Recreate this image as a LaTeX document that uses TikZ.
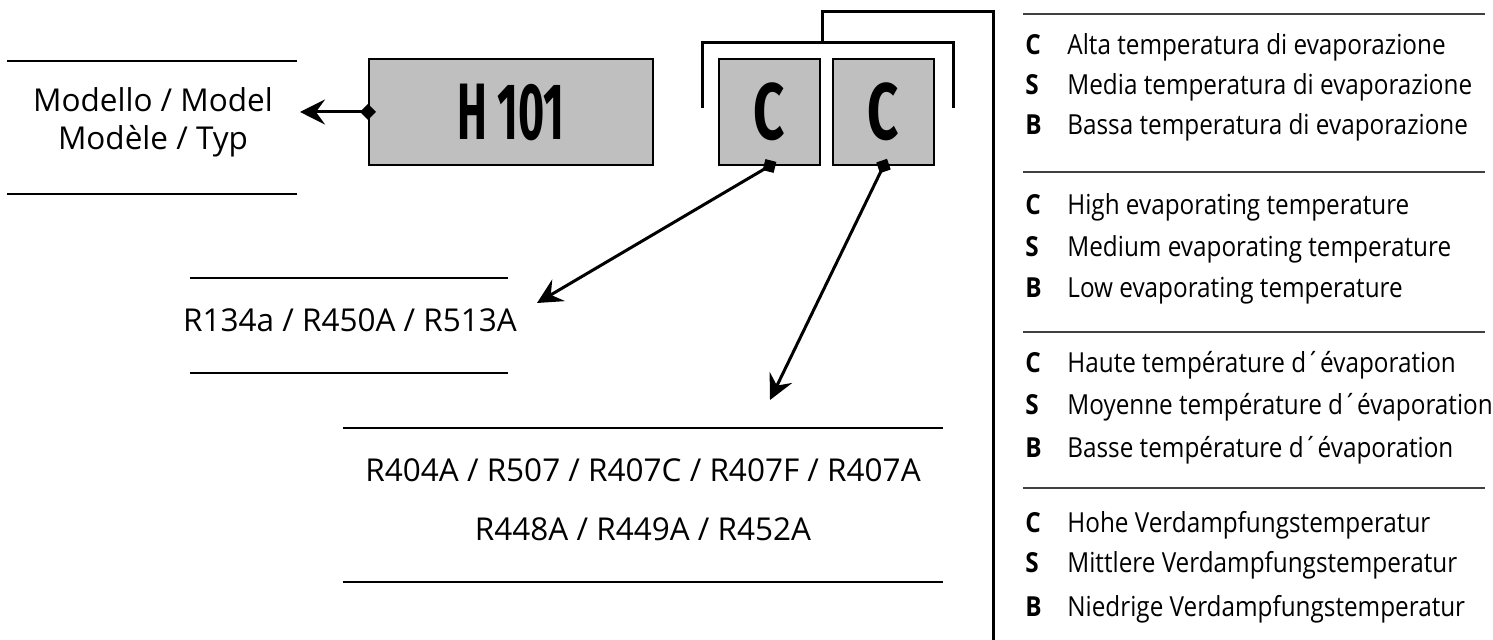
\documentclass[tikz,border=0pt]{standalone}
\usepackage{fontspec}
\setmainfont{Open Sans}
\newfontfamily\codefont{Fira Sans}
\usepackage{tikz}
\usetikzlibrary{positioning, calc, arrows.meta}

\newcommand{\codetext}[2][0.56]{\scalebox{#1}[1]{\codefont\bfseries\fontsize{40}{40}\selectfont #2}}
\newcommand{\legrow}[2]{\makebox[21pt][l]{\scalebox{0.88}[1]{\bfseries #1}}\scalebox{0.88}[1]{#2}}

\tikzset{
  codebox/.style={draw=black, line width=1pt, fill=black!25, minimum height=53pt, inner sep=0pt},
  maintext/.style={font=\fontsize{15.75}{19}\selectfont, inner sep=0pt, anchor=base},
  legend/.style={font=\fontsize{13.8}{16}\selectfont, inner sep=0pt, anchor=base west},
  rule/.style={line width=0.8pt},
  sepline/.style={line width=0.7pt, black!75},
  bracket/.style={line width=1.5pt},
  link/.style={line width=1.5pt, shorten <=-4pt,
    {Diamond[length=8pt,width=8pt]}-{Stealth[length=12.5pt,width=12.5pt,inset=4.5pt]}}
}

\begin{document}
\begin{tikzpicture}[x=0.5pt,y=-0.5pt]
      \useasboundingbox (0,0) rectangle (1493,640);
      % code boxes
      \node[codebox, minimum width=142pt] (model) at (511,112) {\codetext{H 101}};
      \node[codebox, minimum width=50.5pt] (evap1) at (769.5,112) {\codetext[0.68]{C}};
      \node[codebox, minimum width=50.5pt] (evap2) at (883.5,112) {\codetext[0.68]{C}};
      %
      \node[maintext] (modelit) at (153,112) {Modello / Model};
      \node[maintext] (modelfr) at (153,150) {Modèle / Typ};
      \draw[rule] (7,61) -- (297,61);
      \draw[rule] (7,194) -- (297,194);

      \node[maintext] (gasA) at (350,332) {R134a / R450A / R513A};
      \draw[rule] (190,278) -- (508,278);
      \draw[rule] (190,373) -- (508,373);

      \node[maintext] (gasB) at (643,482) {R404A / R507 / R407C / R407F / R407A};
      \node[maintext] (gasBb) at (643,540) {R448A / R449A / R452A};
      \draw[rule] (343,428) -- (943,428);
      \draw[rule] (343,582) -- (943,582);

      % arrows
      \coordinate (modeltip) at (300,112);
      \coordinate (gasAtip) at (537,303);
      \coordinate (gasBtip) at (770,400);
      \draw[link] (model.west) -- (modeltip);
      \draw[link] (evap1.south) -- (gasAtip);
      \draw[link] (evap2.south) -- (gasBtip);

      % bracket to legend
      \draw[bracket] (702,108) |- (953,43) -- (953,108);
      \draw[bracket] (822,43) |- (993,12) -- (993,640);

      % legend
      \draw[sepline] (1023,14) -- (1485,14);
      \node[legend] (itC) at (1025,55) {\legrow{C}{Alta temperatura di evaporazione}};
      \node[legend] (itS) at (1025,95) {\legrow{S}{Media temperatura di evaporazione}};
      \node[legend] (itB) at (1025,135) {\legrow{B}{Bassa temperatura di evaporazione}};
      \draw[sepline] (1023,172) -- (1485,172);
      \node[legend] (enC) at (1025,215) {\legrow{C}{High evaporating temperature}};
      \node[legend] (enS) at (1025,257) {\legrow{S}{Medium evaporating temperature}};
      \node[legend] (enB) at (1025,298) {\legrow{B}{Low evaporating temperature}};
      \draw[sepline] (1023,332) -- (1485,332);
      \node[legend] (frC) at (1025,373) {\legrow{C}{Haute température d´évaporation}};
      \node[legend] (frS) at (1025,415) {\legrow{S}{Moyenne température d´évaporation}};
      \node[legend] (frB) at (1025,458) {\legrow{B}{Basse température d´évaporation}};
      \draw[sepline] (1023,488) -- (1485,488);
      \node[legend] (deC) at (1025,532) {\legrow{C}{Hohe Verdampfungstemperatur}};
      \node[legend] (deS) at (1025,573) {\legrow{S}{Mittlere Verdampfungstemperatur}};
      \node[legend] (deB) at (1025,616) {\legrow{B}{Niedrige Verdampfungstemperatur}};
\end{tikzpicture}
\end{document}
